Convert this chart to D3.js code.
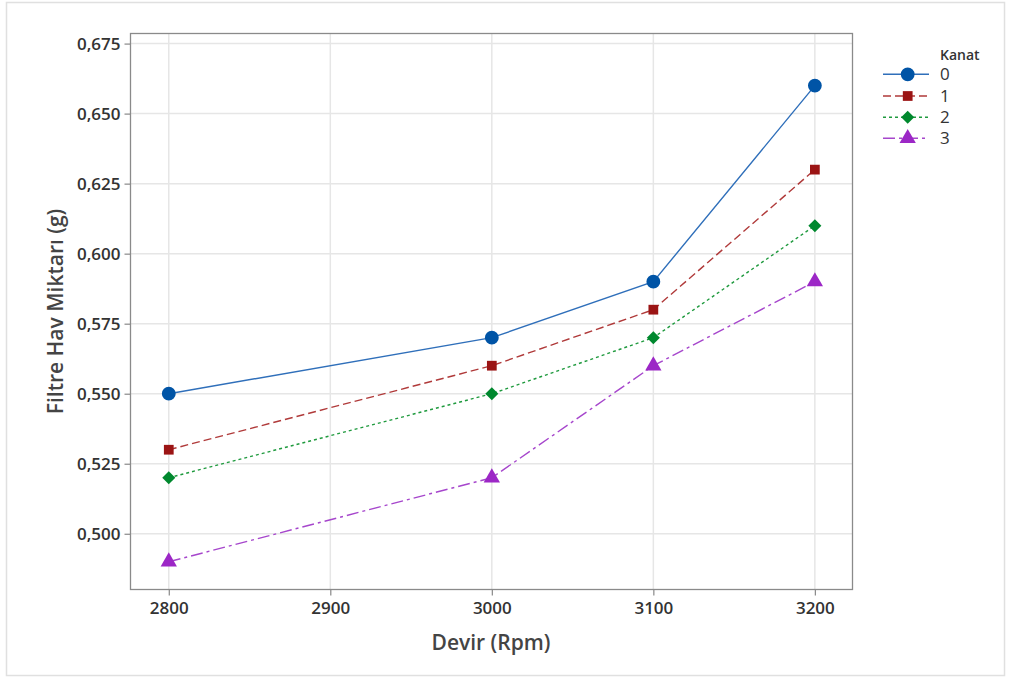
<!DOCTYPE html>
<html><head><meta charset="utf-8">
<script src="https://cdn.jsdelivr.net/npm/d3@7"></script>
<style>body{margin:0;background:#fff;}svg{display:block;} text{font-family:"Open Sans","Noto Sans",sans-serif;}</style>
</head><body>
<script>
const xValues = [2800, 3000, 3100, 3200];
const series0 = [0.55, 0.57, 0.59, 0.66];
const series1 = [0.53, 0.56, 0.58, 0.63];
const series2 = [0.52, 0.55, 0.57, 0.61];
const series3 = [0.49, 0.52, 0.56, 0.59];
const seriesNames = ["0", "1", "2", "3"];
const xTicks = [2800, 2900, 3000, 3100, 3200];
const yTicks = [0.500, 0.525, 0.550, 0.575, 0.600, 0.625, 0.650, 0.675];

const W = 1011, H = 678;
const FONT = '"Open Sans","Noto Sans",sans-serif';
const svg = d3.select("body").append("svg").attr("width", W).attr("height", H);
svg.append("rect").attr("x", 6.5).attr("y", 2.5).attr("width", 998).attr("height", 673)
  .attr("fill", "#fff").attr("stroke", "#e0e0e0").attr("stroke-width", 1.5);

const L = 130.5, R = 852.5, T = 33.5, B = 589.5;
const x = d3.scaleLinear().domain([2776.3, 3223.3]).range([L, R]);
const y = d3.scaleLinear().domain([0.4801, 0.6786]).range([B, T]);

const g = svg.append("g");
g.selectAll(".gx").data(xTicks).join("line")
  .attr("x1", d => x(d)).attr("x2", d => x(d)).attr("y1", T).attr("y2", B)
  .attr("stroke", "#e6e6e6").attr("stroke-width", 1.5);
g.selectAll(".gy").data(yTicks).join("line")
  .attr("y1", d => y(d)).attr("y2", d => y(d)).attr("x1", L).attr("x2", R)
  .attr("stroke", "#e6e6e6").attr("stroke-width", 1.5);

const fmt = d => d3.format(".3f")(d).replace(".", ",");
const xAxis = g.append("g").attr("transform", `translate(0,${B})`)
  .call(d3.axisBottom(x).tickValues(xTicks).tickSize(6).tickPadding(6).tickFormat(d3.format("d")));
const yAxis = g.append("g").attr("transform", `translate(${L},0)`)
  .call(d3.axisLeft(y).tickValues(yTicks).tickSize(6).tickPadding(4).tickFormat(fmt));
[xAxis, yAxis].forEach(a => {
  a.attr("font-family", FONT).attr("font-size", 17);
  a.select(".domain").remove();
  a.selectAll(".tick line").attr("stroke", "#888").attr("stroke-width", 1.2);
  a.selectAll(".tick text").attr("fill", "#333").attr("font-size", 17).attr("font-weight", 600)
    .attr("font-family", FONT);
});
g.append("rect").attr("x", L).attr("y", T).attr("width", R - L).attr("height", B - T)
  .attr("fill", "none").attr("stroke", "#8a8a8a").attr("stroke-width", 1.3);

svg.append("text").attr("x", 491).attr("y", 650).attr("text-anchor", "middle")
  .attr("font-size", 21).attr("font-weight", 600).attr("fill", "#444").text("Devir (Rpm)");
svg.append("text").attr("transform", `translate(63,${(T + B) / 2}) rotate(-90)`).attr("text-anchor", "middle")
  .attr("font-size", 21).attr("font-weight", 600).attr("fill", "#444").text("Filtre Hav Miktarı (g)");

const allSeries = [series0, series1, series2, series3];
const lineColors = ["#2f6fba", "#b03a3a", "#1f9a3e", "#a646cc"];
const markColors = ["#0054a6", "#9b1414", "#00882e", "#9c27c6"];
const dashes = [null, "8,4", "3,3", "12,4,3,4"];
const diamond = { draw(ctx, size) { const r = Math.sqrt(size / 2) ; ctx.moveTo(0, -r); ctx.lineTo(r, 0); ctx.lineTo(0, r); ctx.lineTo(-r, 0); ctx.closePath(); } };
const symbols = [d3.symbolCircle, d3.symbolSquare, diamond, d3.symbolTriangle];
const sizes = [150, 95, 85, 115];

const line = d3.line().x((d, i) => x(xValues[i])).y(d => y(d));
allSeries.forEach((s, k) => {
  g.append("path").datum(s).attr("d", line).attr("fill", "none")
    .attr("stroke", lineColors[k]).attr("stroke-width", 1.4)
    .attr("stroke-dasharray", dashes[k]);
  g.selectAll(".m" + k).data(s).join("path")
    .attr("transform", (d, i) => `translate(${x(xValues[i])},${y(d)})`)
    .attr("d", d3.symbol().type(symbols[k]).size(sizes[k]))
    .attr("fill", markColors[k]);
});

const lg = svg.append("g");
lg.append("text").attr("x", 940).attr("y", 60).attr("font-size", 14).attr("font-weight", 600)
  .attr("fill", "#333").text("Kanat");
const rowsY = [74.3, 96, 117.3, 138.3];
seriesNames.forEach((n, k) => {
  const yy = rowsY[k];
  lg.append("line").attr("x1", 883).attr("x2", 929).attr("y1", yy).attr("y2", yy)
    .attr("stroke", lineColors[k]).attr("stroke-width", 1.4).attr("stroke-dasharray", dashes[k]);
  lg.append("path").attr("transform", `translate(907.7,${yy})`)
    .attr("d", d3.symbol().type(symbols[k]).size(sizes[k])).attr("fill", markColors[k]);
  lg.append("text").attr("x", 940).attr("y", yy + 6).attr("font-size", 17)
    .attr("fill", "#333").text(n);
});
</script>
</body></html>
